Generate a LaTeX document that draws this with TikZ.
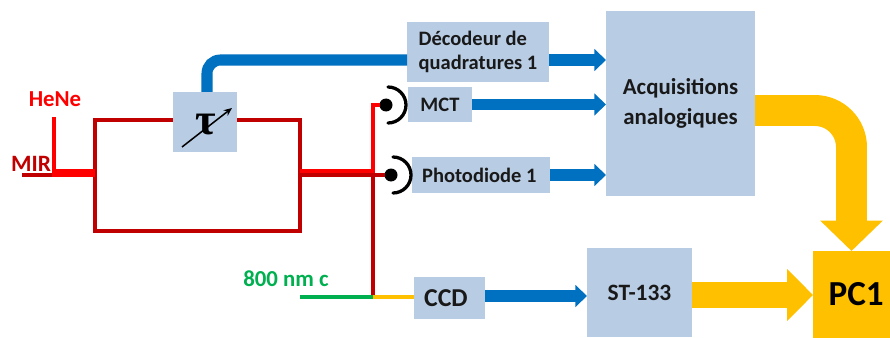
\documentclass[tikz,border=0pt]{standalone}
\usepackage{xcolor}
\usepackage{fontspec}
\setmainfont{Carlito}
\newfontfamily\taufont{Liberation Serif}
\usetikzlibrary{arrows.meta, positioning, calc}
\definecolor{boxblue}{HTML}{B8CCE4}
\definecolor{beamblue}{HTML}{0070C0}
\definecolor{beamgold}{HTML}{FFC000}
\definecolor{mirred}{HTML}{C00000}
\definecolor{henered}{HTML}{FF0000}
\definecolor{probegreen}{HTML}{00B050}
\newcommand{\fs}[2]{\fontsize{#1}{#2}\selectfont\bfseries}

\begin{document}
\begin{tikzpicture}[
  x=0.03cm, y=-0.03cm,
  box/.style={fill=boxblue, inner sep=0pt, outer sep=0pt, align=center, text=black!90},
  ball/.style={circle, fill=black, inner sep=0pt, outer sep=0pt, minimum size=0.39cm},
  label/.style={inner sep=0pt, outer sep=0pt, font=\fs{19.5}{23}},
  sig/.style={line width=9.4pt, color=beamblue, -{Triangle[length=10pt, width=18.5pt]}},
  mirbeam/.style={line width=3.2pt, color=mirred},
  hebeam/.style={line width=3.4pt, color=henered},
  lens/.style={line width=2.8pt, line cap=round},
]
  \useasboundingbox (0,0) rectangle (890,338);

  % interferometer frame
  \node[draw=mirred, line width=3pt, inner sep=0pt, outer sep=0pt, minimum width=6.15cm, minimum height=3.33cm] (frame) at (197.5,175.5) {};

  % boxes
  \node[box, minimum width=1.92cm, minimum height=1.8cm] (delay) at (205,122) {};
  \node[box, align=left, minimum width=4.26cm, minimum height=1.8cm, font=\fs{17.5}{20}] (decoder) at (478,52) {Décodeur de\\quadratures 1};
  \node[box, minimum width=1.92cm, minimum height=1.05cm, font=\fs{17.5}{20}] (mct) at (440,104.5) {MCT};
  \node[box, minimum width=4.14cm, minimum height=1.08cm, font=\fs{17.5}{20}] (photo) at (481,175) {\hspace*{-3pt}Photodiode 1};
  \node[box, minimum width=4.47cm, minimum height=5.55cm, font=\fs{19.5}{25}] (acq) at (680.5,103.5) {Acquisitions\\analogiques};
  \node[box, minimum width=2.13cm, minimum height=1.26cm, font=\fs{22}{25}] (ccd) at (449.5,298) {\hspace*{-6pt}CCD};
  \node[box, minimum width=3.15cm, minimum height=2.67cm, font=\fs{20}{22}] (st) at (639.5,292.5) {ST-133};
  \node[fill=beamgold, inner sep=0pt, outer sep=0pt, minimum width=2.31cm, minimum height=2.61cm, font=\fs{30}{35}] (pc) at (851.5,294.5) {\hspace*{8pt}PC1};

  % delay symbol
  \node[inner sep=0pt, font=\taufont\fontsize{38}{38}\selectfont\bfseries] (tausym) at (206,125) {τ};
  \coordinate (delaystart) at (182,147);
  \coordinate (delayend) at (232,108);
  \draw[line width=1.3pt, -{Stealth[length=7pt, width=6pt]}] (delaystart) -- (delayend);

  % labels
  \node[label, text=henered] (hene) at (55,99) {HeNe};
  \node[label, text=mirred, font=\fs{20}{23}] (mir) at (31,164) {MIR};
  \node[label, text=probegreen] (probe) at (286,279) {800 nm c};

  % detectors
  \node[ball] (ballmct) at (386,105) {};
  \node[ball] (ballphoto) at (391,175) {};
  \draw[lens] (388,87) arc[start angle=-90, end angle=90, radius=18];
  \draw[lens] (393,157) arc[start angle=-90, end angle=90, radius=18];

  % input beams
  \coordinate (mirin) at (22,175);
  \coordinate (heneend) at (54,117);
  \coordinate (henefoot) at (54,173);
  \coordinate (split) at (373,173);
  \coordinate (probein) at (300,297);
  \coordinate (probejoin) at (373,297);
  \coordinate (decoderline) at (0,60);
  \coordinate (ccdline) at (0,296);
  \coordinate (stline) at (0,295);
  \coordinate (acqline) at (0,110.5);
  \draw[mirbeam] (mirin) -- (henefoot |- mirin);
  \draw[line width=3.6pt, color=henered] (heneend) -- (henefoot);
  \draw[line width=7pt, color=henered] ($(henefoot)+(-2,0)$) -- (frame.west |- henefoot);

  % outgoing beams
  \draw[line width=3.6pt, color=henered] ($(frame.east |- split)+(0,-2)$) -- ($(split)+(0,-2)$);
  \draw[line width=3.2pt, color=mirred] ($(frame.east |- split)+(0,2)$) -- ($(split)+(0,2)$);
  \draw[hebeam] (split) |- (ballmct);
  \draw[mirbeam] (split) -- (probejoin);
  \draw[line width=2.8pt, color=mirred] (split |- ballphoto) -- (ballphoto);
  \draw[line width=3.4pt, color=probegreen] (probein) -- (probejoin);
  \draw[line width=2.8pt, color=beamgold] (probejoin) -- (ccd.west |- probejoin);

  % signals
  \draw[line width=9.4pt, color=beamblue, rounded corners=0.4cm] ($(delay.north)+(2,0)$) |- (decoder.west |- decoderline);
  \draw[sig] (decoder.east |- decoderline) -- (acq.west |- decoderline);
  \draw[sig] (mct.east) -- (acq.west |- mct.east);
  \draw[sig] (photo.east) -- (acq.west |- photo.east);
  \draw[sig] (ccd.east |- ccdline) -- (st.west |- ccdline);
  \draw[line width=26.4pt, color=beamgold, rounded corners=1.1cm, -{Triangle[length=26pt, width=52pt]}] (acq.east |- acqline) -| (pc.north);
  \draw[line width=22pt, color=beamgold, -{Triangle[length=22pt, width=43pt]}] (st.east |- stline) -- (pc.west |- stline);
\end{tikzpicture}
\end{document}
